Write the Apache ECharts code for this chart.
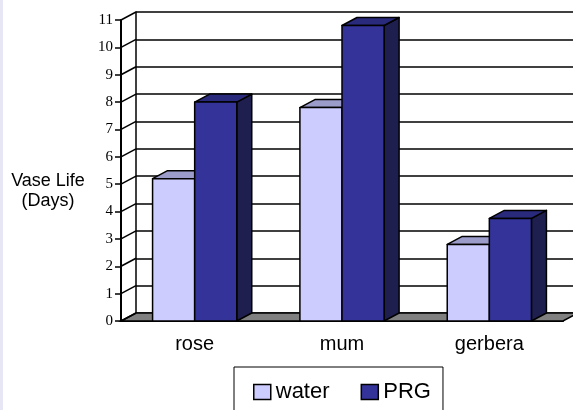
<!DOCTYPE html>
<html>
<head>
<meta charset="utf-8">
<script src="https://cdn.jsdelivr.net/npm/echarts@6/dist/echarts.min.js"></script>
<style>
  html, body { margin: 0; padding: 0; background: #fff; }
  #main { width: 573px; height: 410px; }
</style>
</head>
<body>
<div id="main"></div>
<script>
// data
var categories = ['rose', 'mum', 'gerbera'];
var waterValues = [5.2, 7.8, 2.8];
var prgValues = [8.0, 10.8, 3.75];
var yTickValues = [0, 1, 2, 3, 4, 5, 6, 7, 8, 9, 10, 11];

// 3d look
var DX = 15, DY = -8;
var SANS = 'Liberation Sans, Arial, sans-serif';
var SERIF = 'Liberation Serif, Times New Roman, serif';

var myChart = echarts.init(document.getElementById('main'));

function barItem(k, colors) {
    return function (params, api) {
        var cat = api.value(0), v = api.value(1);
        var base = api.coord([cat, 0]);
        var top = api.coord([cat, v]);
        var catW = api.size([1, 0])[0];
        var bw = catW / 3.5;
        var x0 = k === 0 ? base[0] - bw : base[0];
        var x1 = x0 + bw;
        var st = { stroke: '#000', lineWidth: 1.5, lineJoin: 'round' };
        return {
            type: 'group',
            children: [
                { type: 'polygon', shape: { points: [[x1, top[1]], [x1 + DX, top[1] + DY], [x1 + DX, base[1] + DY], [x1, base[1]]] },
                  style: Object.assign({ fill: colors[2] }, st) },
                { type: 'polygon', shape: { points: [[x0, top[1]], [x1, top[1]], [x1 + DX, top[1] + DY], [x0 + DX, top[1] + DY]] },
                  style: Object.assign({ fill: colors[1] }, st) },
                { type: 'rect', shape: { x: x0, y: top[1], width: bw, height: base[1] - top[1] },
                  style: Object.assign({ fill: colors[0] }, st) }
            ]
        };
    };
}

var option = {
    animation: false,
    backgroundColor: '#fff',
    graphic: [
        { type: 'rect', left: 0, top: 0, shape: { width: 3, height: 410 }, style: { fill: '#e6e6f5' } },
        { type: 'text', x: 48, y: 171, style: { text: 'Vase Life\n(Days)', fill: '#000', font: '18px ' + SANS, align: 'center', lineHeight: 20 } }
    ],
    legend: {
        data: ['water', 'PRG'],
        left: 234, top: 367,
        icon: 'rect',
        itemWidth: 17, itemHeight: 15, itemGap: 31,
        padding: [14, 12, 20, 19],
        borderColor: '#000', borderWidth: 1,
        itemStyle: { borderColor: '#000', borderWidth: 1.5 },
        textStyle: { fontFamily: SANS, fontSize: 22, color: '#000' }
    },
    grid: [
        { left: 121, right: 10, top: 20, bottom: 89 },
        { left: 136, width: 442, top: 12, bottom: 97 }
    ],
    xAxis: [
        {
            type: 'category', gridIndex: 0, data: categories,
            axisLine: { lineStyle: { color: '#000', width: 2 } },
            axisTick: { length: 5, lineStyle: { color: '#000', width: 1.5 } },
            axisLabel: { margin: 13, color: '#000', fontFamily: SANS, fontSize: 20 }
        },
        { type: 'category', gridIndex: 1, data: categories, show: false }
    ],
    yAxis: [
        {
            type: 'value', gridIndex: 0, min: 0, max: 11, interval: 1,
            axisLine: { show: true, lineStyle: { color: '#000', width: 2 } },
            axisTick: { show: true, length: 6, lineStyle: { color: '#000', width: 1.5 } },
            axisLabel: { margin: 8, color: '#000', fontFamily: SERIF, fontSize: 15 },
            splitLine: { show: false }
        },
        {
            type: 'value', gridIndex: 1, min: 0, max: 11, interval: 1,
            axisLine: { show: true, lineStyle: { color: '#000', width: 1.5 } },
            axisTick: { show: false }, axisLabel: { show: false },
            splitLine: { show: true, lineStyle: { color: '#000', width: 1.5 } }
        }
    ],
    series: [
        {
            // floor
            type: 'custom', xAxisIndex: 0, yAxisIndex: 0, silent: true,
            data: [[0, 0]],
            renderItem: function (params, api) {
                var catW = api.size([1, 0])[0];
                var l = api.coord([0, 0]);
                var r = api.coord([categories.length - 1, 0]);
                var xl = l[0] - catW / 2, xr = r[0] + catW / 2, y = l[1];
                return { type: 'polygon', shape: { points: [[xl, y], [xr, y], [xr + DX, y + DY], [xl + DX, y + DY]] },
                         style: { fill: '#808080', stroke: '#000', lineWidth: 1.5 } };
            }
        },
        {
            // side wall diagonals at each tick
            type: 'custom', xAxisIndex: 0, yAxisIndex: 0, silent: true,
            data: yTickValues.map(function (v) { return [0, v]; }),
            renderItem: function (params, api) {
                var catW = api.size([1, 0])[0];
                var p = api.coord([0, api.value(1)]);
                var x = p[0] - catW / 2;
                return { type: 'line', shape: { x1: x, y1: p[1], x2: x + DX, y2: p[1] + DY },
                         style: { stroke: '#000', lineWidth: 1.5 } };
            }
        },
        {
            name: 'water', type: 'custom', xAxisIndex: 0, yAxisIndex: 0,
            itemStyle: { color: '#CCCCFF' },
            data: waterValues.map(function (v, i) { return [i, v]; }),
            renderItem: barItem(0, ['#CCCCFF', '#9C9CCB', '#66669A'])
        },
        {
            name: 'PRG', type: 'custom', xAxisIndex: 0, yAxisIndex: 0,
            itemStyle: { color: '#333399' },
            data: prgValues.map(function (v, i) { return [i, v]; }),
            renderItem: barItem(1, ['#333399', '#2A2A7C', '#1F1F4F'])
        }
    ]
};

myChart.setOption(option);
</script>
</body>
</html>
